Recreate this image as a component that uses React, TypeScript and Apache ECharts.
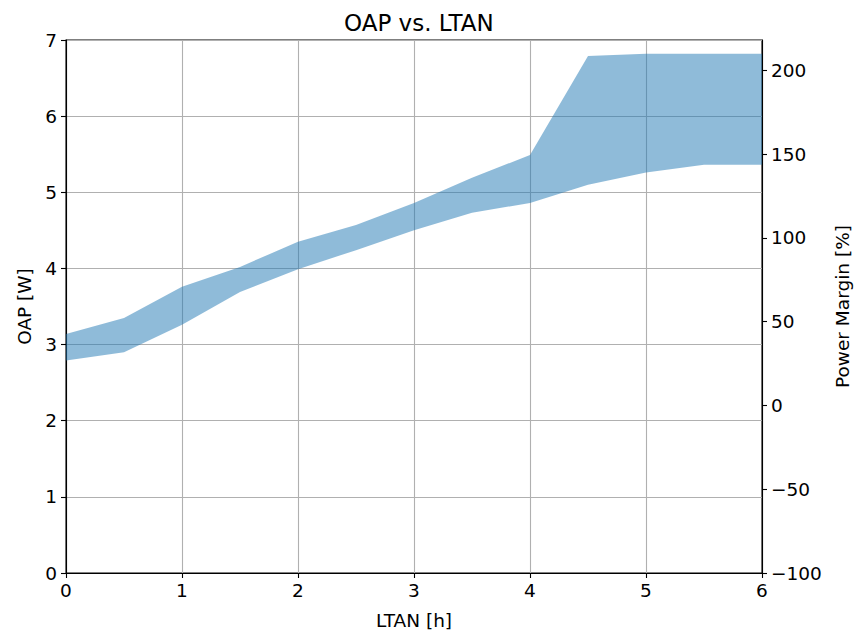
import React, { useEffect, useRef } from "react";
import * as echarts from "echarts";

const ltan = ["0", "0.5", "1", "1.5", "2", "2.5", "3", "3.5", "4", "4.5", "5", "5.5", "6"];
const oapLow = [2.79, 2.9, 3.26, 3.69, 3.99, 4.24, 4.5, 4.73, 4.86, 5.1, 5.26, 5.36, 5.36];
const oapHigh = [3.14, 3.35, 3.76, 4.02, 4.35, 4.57, 4.86, 5.19, 5.49, 6.79, 6.82, 6.82, 6.82];
const marginTicks = [-100, -50, 0, 50, 100, 150, 200];
const refPower = 2.2;

const FONT = "DejaVu Sans";
const fmt = (v: number) => String(v).replace("-", "\u2212");

export default function App() {
  const ref = useRef<HTMLDivElement>(null);
  useEffect(() => {
    if (!ref.current) return;
    const chart = echarts.init(ref.current, undefined, { renderer: "svg" });
    const diffData = oapHigh.map((h, i) => +(h - oapLow[i]).toFixed(4));
    const axisText = { color: "#000", fontFamily: FONT, fontSize: 18.5 };
    chart.setOption({
      animation: false,
      title: {
        text: "OAP vs. LTAN",
        left: 339,
        top: 6,
        textStyle: { color: "#000", fontFamily: FONT, fontSize: 23, fontWeight: "normal" },
      },
      grid: {
        left: 66,
        right: 92,
        top: 40,
        bottom: 62,
        outerBoundsMode: "none",
        containLabel: false,
        show: true,
        borderColor: "#000",
        borderWidth: 1.1,
        backgroundColor: "transparent",
      },
      xAxis: {
        type: "category",
        data: ltan,
        boundaryGap: false,
        name: "LTAN [h]",
        nameLocation: "middle",
        nameGap: 38,
        nameTextStyle: axisText,
        axisLine: { lineStyle: { color: "#000", width: 1.1 } },
        axisTick: { length: 5, interval: 1, lineStyle: { color: "#000", width: 1.1 } },
        axisLabel: { ...axisText, margin: 8, interval: 1 },
        splitLine: { show: true, interval: 1, lineStyle: { color: "#b0b0b0", width: 1.1 } },
      },
      yAxis: [
        {
          type: "value",
          min: 0,
          max: 7,
          interval: 1,
          name: "OAP [W]",
          nameLocation: "middle",
          nameRotate: 90,
          nameGap: 27,
          nameTextStyle: axisText,
          axisLine: { show: true, lineStyle: { color: "#000", width: 1.1 } },
          axisTick: { show: true, length: 5, lineStyle: { color: "#000", width: 1.1 } },
          axisLabel: { ...axisText, margin: 9 },
          splitLine: { show: true, lineStyle: { color: "#b0b0b0", width: 1.1 } },
        },
        {
          type: "value",
          position: "right",
          min: -100,
          max: (7 / refPower - 1) * 100,
          interval: 50,
          name: "Power Margin [%]",
          nameLocation: "middle",
          nameRotate: 90,
          nameGap: 70,
          nameTextStyle: axisText,
          axisLine: { show: true, lineStyle: { color: "#000", width: 1.1 } },
          axisTick: { show: true, length: 5, customValues: marginTicks, lineStyle: { color: "#000", width: 1.1 } },
          axisLabel: { ...axisText, margin: 9, customValues: marginTicks, formatter: (v: number) => fmt(v) },
          splitLine: { show: false },
        },
      ],
      series: [
        {
          type: "line",
          stack: "band",
          data: oapLow,
          symbol: "none",
          lineStyle: { width: 0, opacity: 0 },
          silent: true,
        },
        {
          type: "line",
          stack: "band",
          data: diffData,
          symbol: "none",
          lineStyle: { width: 0, opacity: 0 },
          areaStyle: { color: "#1f77b4", opacity: 0.5 },
          silent: true,
        },
      ],
    });
    return () => chart.dispose();
  }, []);
  return (
    <div
      ref={ref}
      style={{ position: "absolute", left: 0, top: 0, width: 854, height: 635 }}
    />
  );
}
